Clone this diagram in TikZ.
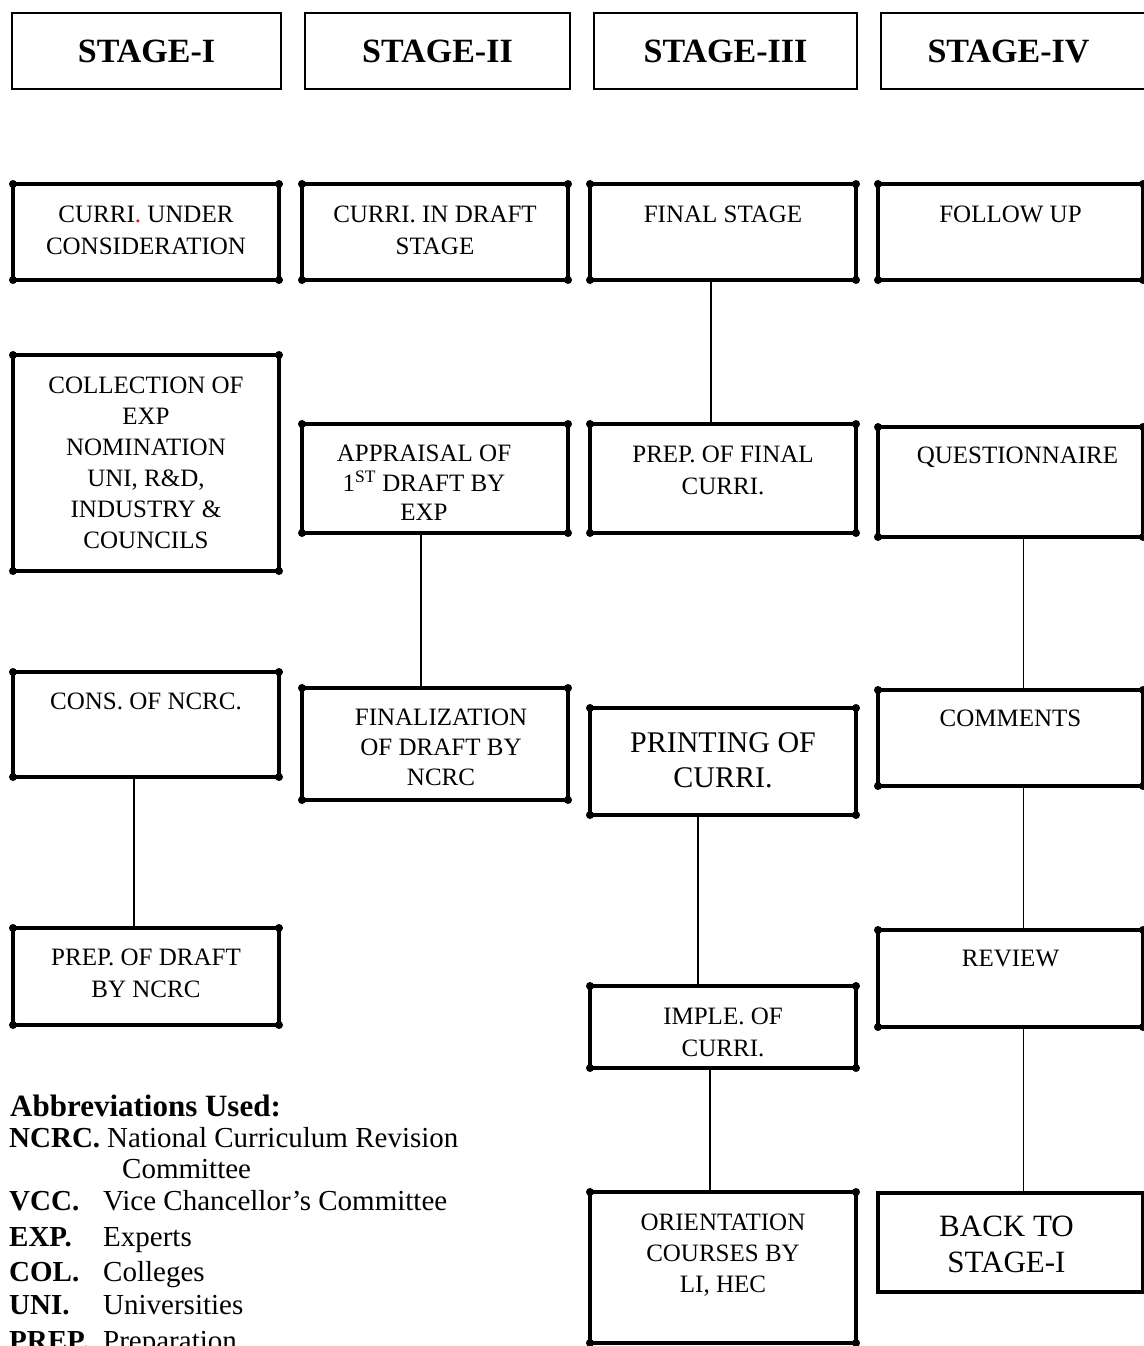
\documentclass[tikz,border=0pt]{standalone}
\usepackage{fontspec}
\setmainfont{Liberation Serif}
\newcommand\flowbox[6][bx]{\node[#1, minimum width={#5pt-#3pt}, minimum height={#6pt-#4pt}] (#2) at ({(#3+#5)/2},{(#4+#6)/2}) {};}
\newcommand\hdrbox[6]{\node[hdr, minimum width={#4pt-#2pt}, minimum height={#5pt-#3pt}] (#1) at ({(#2+#4)/2},{(#3+#5)/2}) {#6};}
\begin{document}
\begin{tikzpicture}[x=1pt,y=-1pt,
  hdr/.style={draw, line width=2.5pt, inner sep=0pt, outer sep=0pt, font=\fontsize{34}{40}\selectfont\bfseries, text height=23pt, text depth=0pt},
  bx/.style={draw, line width=4.5pt, inner sep=0pt, outer sep=0pt},
  txt/.style={anchor=north, inner sep=0pt, align=center, font=\fontsize{25}{32}\selectfont},
  bigtxt/.style={anchor=north, inner sep=0pt, align=center, font=\fontsize{30}{35}\selectfont},
  link/.style={line width=1.3pt},
  abl/.style={anchor=base west, inner sep=0pt, font=\fontsize{29}{33}\selectfont\bfseries},
  abd/.style={anchor=base west, inner sep=0pt, font=\fontsize{29}{33}\selectfont}]
\useasboundingbox (0,0) rectangle (1143,1346);

% headers
\hdrbox{H1}{12}{13}{281}{89}{STAGE-I}
\hdrbox{H2}{305}{13}{570}{89}{STAGE-II}
\hdrbox{H3}{594}{13}{857}{89}{STAGE-III}
\hdrbox{H4}{881}{13}{1150}{89}{\hspace*{-14pt}STAGE-IV}

% column 1
\flowbox{A1}{13}{184}{279}{280}
\flowbox{A2}{13}{355}{279}{571}
\flowbox{A3}{13}{672}{279}{777}
\flowbox{A4}{13}{928}{279}{1025}
% column 2
\flowbox{B1}{302}{184}{568}{280}
\flowbox{B2}{302}{424}{568}{533}
\flowbox{B3}{302}{688}{568}{800}
% column 3
\flowbox{C1}{590}{184}{856}{280}
\flowbox{C2}{590}{424}{856}{533}
\flowbox{C3}{590}{708}{856}{815}
\flowbox{C4}{590}{986}{856}{1068}
\flowbox{C5}{590}{1192}{856}{1343}
% column 4
\flowbox{D1}{878}{184}{1143}{280}
\flowbox{D2}{878}{427}{1143}{537}
\flowbox{D3}{878}{690}{1143}{786}
\flowbox{D4}{878}{930}{1143}{1027}
\flowbox{D5}{878}{1193}{1143}{1292}

\foreach \n in {A1,A2,A3,A4,B1,B2,B3,C1,C2,C3,C4,C5,D1,D2,D3,D4}
  \foreach \c in {north west,north east,south west,south east}
    \fill (\n.\c) circle (4pt);

% texts
\node[txt] (A1t) at ([yshift=-16pt]A1.north) {\strut CURRI\textcolor{red}{.} UNDER\\CONSIDERATION};
\node[txt, font=\fontsize{25}{31}\selectfont] (A2t) at ([yshift=-17pt]A2.north) {\strut COLLECTION OF\\EXP\\NOMINATION\\UNI, R\&D,\\INDUSTRY \&\\COUNCILS};
\node[txt] (A3t) at ([yshift=-15pt]A3.north) {\strut CONS. OF NCRC.};
\node[txt] (A4t) at ([yshift=-15pt]A4.north) {\strut PREP. OF DRAFT\\BY NCRC};
\node[txt] (B1t) at ([yshift=-16pt]B1.north) {\strut CURRI. IN DRAFT\\STAGE};
\node[txt, font=\fontsize{25}{29.5}\selectfont] (B2t) at ([xshift=-11pt,yshift=-17pt]B2.north) {\strut APPRAISAL OF\\1\textsuperscript{ST} DRAFT BY\\EXP};
\node[txt, font=\fontsize{25}{30}\selectfont] (B3t) at ([xshift=6pt,yshift=-16pt]B3.north) {\strut FINALIZATION\\OF DRAFT BY\\NCRC};
\node[txt] (C1t) at ([yshift=-16pt]C1.north) {\strut FINAL STAGE};
\node[txt] (C2t) at ([yshift=-16pt]C2.north) {\strut PREP. OF FINAL\\CURRI.};
\node[bigtxt] (C3t) at ([yshift=-19.5pt]C3.north) {\strut PRINTING OF\\CURRI.};
\node[txt] (C4t) at ([yshift=-16pt]C4.north) {\strut IMPLE. OF\\CURRI.};
\node[txt, font=\fontsize{25}{31}\selectfont] (C5t) at ([yshift=-17pt]C5.north) {\strut ORIENTATION\\COURSES BY\\LI, HEC};
\node[txt] (D1t) at ([yshift=-16pt]D1.north) {\strut FOLLOW UP};
\node[txt] (D2t) at ([xshift=7pt,yshift=-14pt]D2.north) {\strut QUESTIONNAIRE};
\node[txt] (D3t) at ([yshift=-14pt]D3.north) {\strut COMMENTS};
\node[txt] (D4t) at ([yshift=-14pt]D4.north) {\strut REVIEW};
\node[bigtxt, font=\fontsize{31}{36}\selectfont] (D5t) at ([xshift=-4pt,yshift=-18pt]D5.north) {\strut BACK TO\\STAGE-I};

% connectors
\draw[link] ([xshift=-12pt]A3.south) -- ([xshift=-12pt]A4.north);
\draw[link] ([xshift=-14pt]B2.south) -- ([xshift=-14pt]B3.north);
\draw[link] ([xshift=-12pt]C1.south) -- ([xshift=-12pt]C2.north);
\draw[link] ([xshift=-25pt]C3.south) -- ([xshift=-25pt]C4.north);
\draw[link] ([xshift=-13pt]C4.south) -- ([xshift=-13pt]C5.north);
\draw[link] ([xshift=13pt]D2.south) -- ([xshift=13pt]D3.north);
\draw[link] ([xshift=13pt]D3.south) -- ([xshift=13pt]D4.north);
\draw[link] ([xshift=13pt]D4.south) -- ([xshift=13pt]D5.north);

% abbreviations
\node[anchor=base west, inner sep=0pt, font=\fontsize{31}{36}\selectfont\bfseries] (abbr) at (10,1116) {Abbreviations Used:};
\node[abl] (k1) at (9,1147) {NCRC.};
\node[abd] (v1) at (107,1147) {National Curriculum Revision};
\node[abd] (v1b) at (122,1178) {Committee};
\node[abl] (k2) at (9,1210) {VCC.};
\node[abd] (v2) at (103,1210) {Vice Chancellor’s Committee};
\node[abl] (k3) at (9,1246) {EXP.};
\node[abd] (v3) at (103,1246) {Experts};
\node[abl] (k4) at (9,1281) {COL.};
\node[abd] (v4) at (103,1281) {Colleges};
\node[abl] (k5) at (9,1314) {UNI.};
\node[abd] (v5) at (103,1314) {Universities};
\node[abl] (k6) at (9,1350) {PREP.};
\node[abd] (v6) at (103,1350) {Preparation};
\end{tikzpicture}
\end{document}
